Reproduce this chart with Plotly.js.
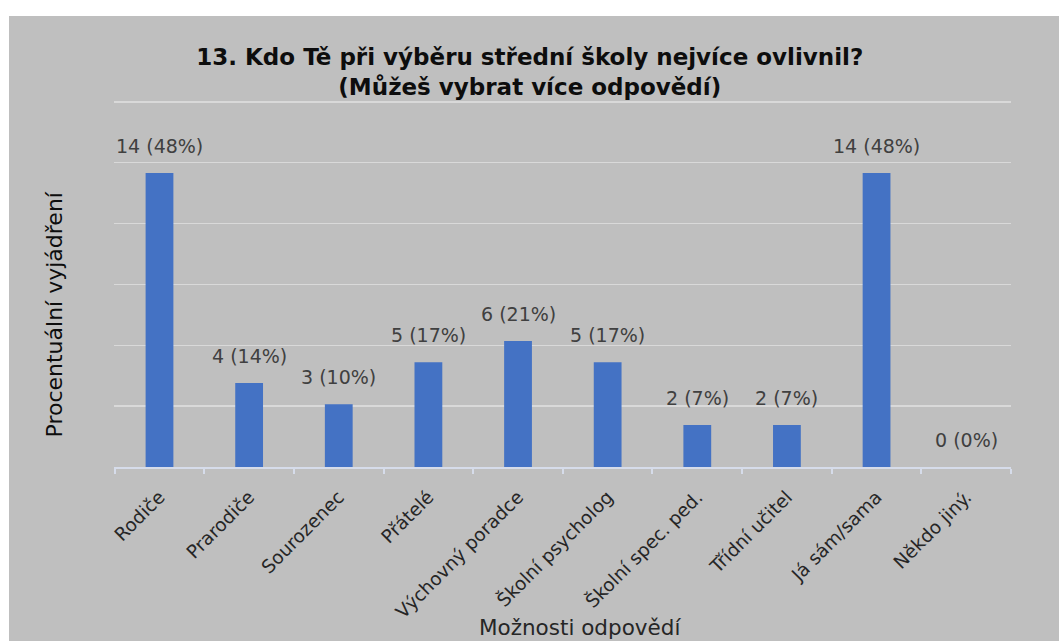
<!DOCTYPE html>
<html>
<head>
<meta charset="utf-8">
<script src="https://cdn.plot.ly/plotly-3.0.1.min.js"></script>
<style>
  html, body { margin: 0; padding: 0; background: #ffffff; width: 1059px; height: 641px; overflow: hidden; }
  #chart { position: absolute; left: 9px; top: 16px; width: 1050px; height: 625px; }
</style>
</head>
<body>
<div id="chart"></div>
<script>
const categories = ["Rodiče", "Prarodiče", "Sourozenec", "Přátelé", "Výchovný poradce", "Školní psycholog", "Školní spec. ped.", "Třídní učitel", "Já sám/sama", "Někdo jiný."];
const counts = [14, 4, 3, 5, 6, 5, 2, 2, 14, 0];
const percents = [48.3, 13.8, 10.3, 17.2, 20.7, 17.2, 6.9, 6.9, 48.3, 0];
const percentLabels = ["48%", "14%", "10%", "17%", "21%", "17%", "7%", "7%", "48%", "0%"];
const labels = counts.map((c, i) => c + " (" + percentLabels[i] + ")");
const yTicks = [0, 10, 20, 30, 40, 50, 60];

const FONT = "DejaVu Sans, Noto Sans, sans-serif";

const trace = {
  type: "bar",
  x: categories,
  y: percents,
  marker: { color: "#4472c4" },
  width: 0.31,
  hoverinfo: "x+y"
};

const dataLabels = categories.map((c, i) => ({
  text: labels[i],
  x: c,
  y: percents[i],
  xref: "x", yref: "y",
  xanchor: "center", yanchor: "middle",
  yshift: 27,
  showarrow: false,
  font: { family: FONT, size: 19, color: "#404040" }
}));

const layout = {
  width: 1050,
  height: 625,
  paper_bgcolor: "#bfbfbf",
  plot_bgcolor: "#bfbfbf",
  margin: { l: 105, r: 48, t: 84, b: 174 },
  showlegend: false,
  font: { family: FONT, color: "#404040" },
  title: {
    text: "<b>13. Kdo Tě při výběru střední školy nejvíce ovlivnil?<br>(Můžeš vybrat více odpovědí)</b>",
    font: { family: FONT, size: 23, color: "#0d0d0d" },
    x: 0.496, xref: "container", xanchor: "center",
    y: 0.922, yref: "container", yanchor: "bottom"
  },
  xaxis: {
    type: "category",
    tickangle: -45,
    tickfont: { family: FONT, size: 18.5, color: "#262626" },
    ticklabelstandoff: 10,
    showline: true,
    linecolor: "#d6dcea",
    linewidth: 2,
    ticks: "outside",
    tickson: "boundaries",
    ticklen: 5,
    tickwidth: 2,
    tickcolor: "#d6dcea",
    showgrid: false,
    automargin: false
  },
  yaxis: {
    range: [0, 60.3],
    tickvals: yTicks,
    showticklabels: false,
    showgrid: true,
    gridcolor: "#d9d9d9",
    gridwidth: 1.5,
    zeroline: false,
    showline: false,
    ticks: "",
    automargin: false
  },
  annotations: dataLabels.concat([
    {
      text: "Procentuální vyjádření",
      textangle: -90,
      xref: "paper", yref: "paper",
      x: -0.066, y: 0.415,
      xanchor: "center", yanchor: "middle",
      showarrow: false,
      font: { family: FONT, size: 22, color: "#0d0d0d" }
    },
    {
      text: "Možnosti odpovědí",
      xref: "paper", yref: "paper",
      x: 0.52, y: -0.437,
      xanchor: "center", yanchor: "middle",
      showarrow: false,
      font: { family: FONT, size: 21.5, color: "#262626" }
    }
  ])
};

Plotly.newPlot("chart", [trace], layout, { displayModeBar: false, staticPlot: true });
</script>
</body>
</html>
